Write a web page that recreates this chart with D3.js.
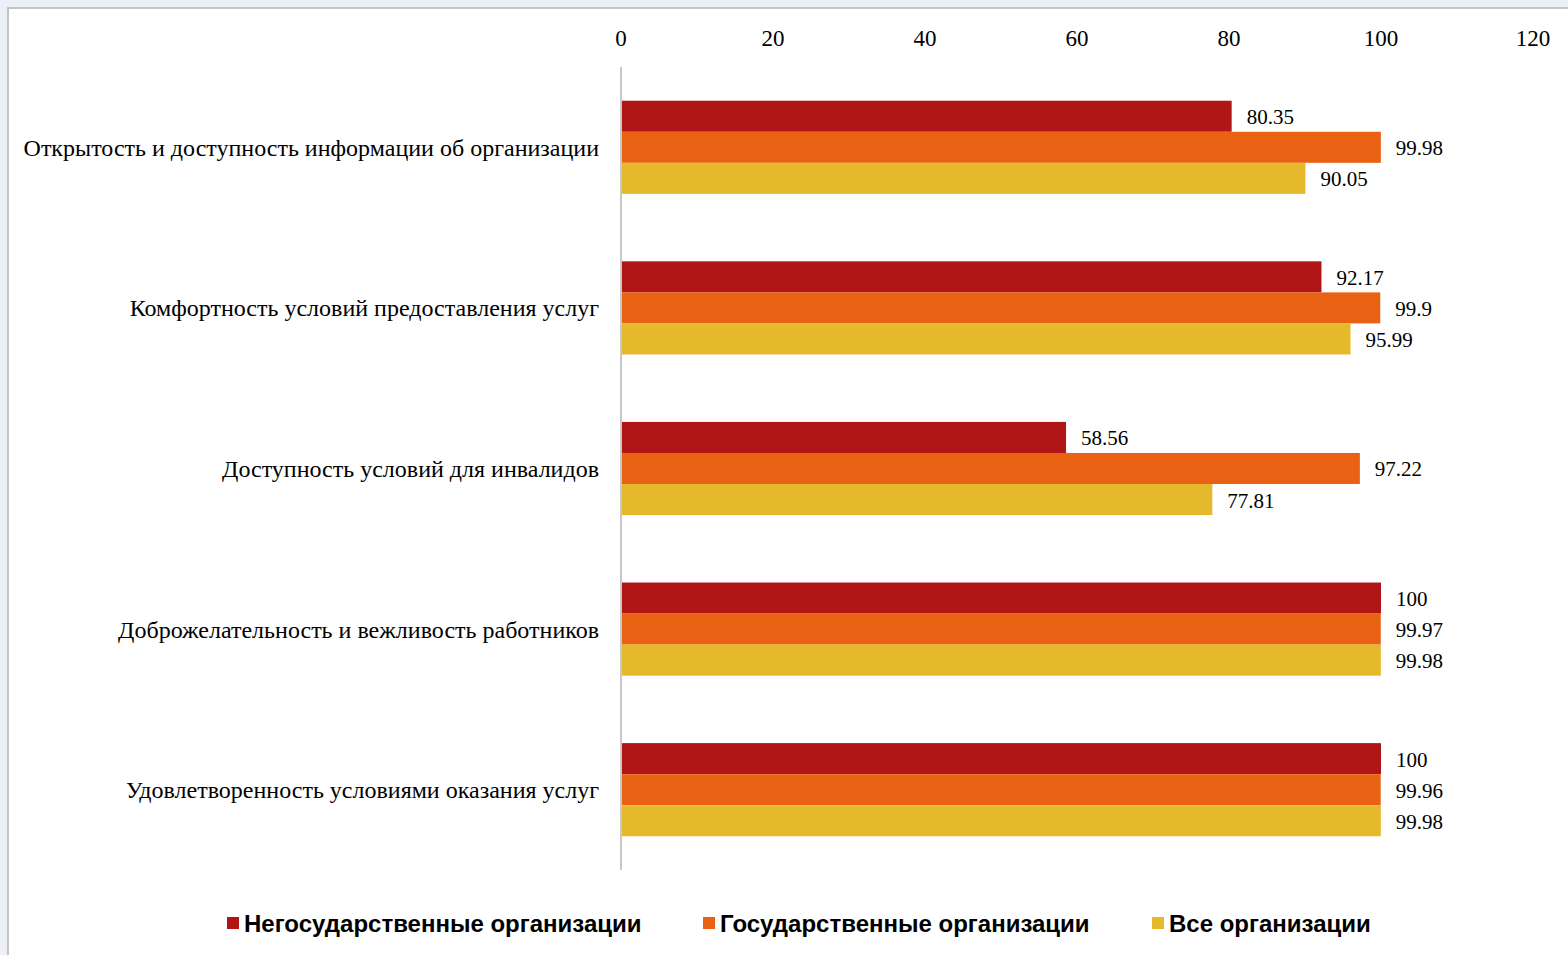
<!DOCTYPE html>
<html>
<head>
<meta charset="utf-8">
<script src="https://cdn.jsdelivr.net/npm/d3@7"></script>
<style>
  html, body { margin: 0; padding: 0; background: #edf1f7; }
  svg { display: block; }
</style>
</head>
<body>
<div id="chart"></div>
<script>
const categories = [
  'Открытость и доступность информации об организации',
  'Комфортность условий предоставления услуг',
  'Доступность условий для инвалидов',
  'Доброжелательность и вежливость работников',
  'Удовлетворенность условиями оказания услуг'
];
const seriesNames = ['Негосударственные организации', 'Государственные организации', 'Все организации'];
const nonState = [80.35, 92.17, 58.56, 100, 100];
const state = [99.98, 99.9, 97.22, 99.97, 99.96];
const allOrgs = [90.05, 95.99, 77.81, 99.98, 99.98];
const colors = ['#b01615', '#e96214', '#e6b82b'];
const tickValues = [0, 20, 40, 60, 80, 100, 120];

const W = 1568, H = 955;
const svg = d3.select('#chart').append('svg').attr('width', W).attr('height', H);

// white panel
svg.append('rect').attr('x', 8).attr('y', 8).attr('width', W).attr('height', H)
  .attr('fill', '#fff').attr('stroke', '#c3c3c3').attr('stroke-width', 2);

let x = d3.scaleLinear().domain([0, 120]).range([621, 1533]);
let y = d3.scaleBand().domain(categories).range([67, 870]).paddingInner(0.42).paddingOuter(0.21);
let inner = d3.scaleBand().domain([0, 1, 2]).range([0, y.bandwidth()]);

let data = categories.map((c, i) => ({ cat: c, vals: [nonState[i], state[i], allOrgs[i]] }));

// ticks on top
svg.append('g').selectAll('text').data(tickValues).enter().append('text')
  .attr('x', d => x(d)).attr('y', 46)
  .attr('text-anchor', 'middle')
  .style('font-family', '"Liberation Serif", "Times New Roman", serif')
  .style('font-size', '23px').attr('fill', '#000')
  .text(d => d);

let groups = svg.append('g').selectAll('g').data(data).enter().append('g')
  .attr('transform', d => `translate(0,${y(d.cat)})`);

groups.selectAll('rect').data(d => d.vals).enter().append('rect')
  .attr('x', x(0)).attr('y', (d, i) => inner(i))
  .attr('width', d => x(d) - x(0)).attr('height', inner.bandwidth())
  .attr('fill', (d, i) => colors[i]);

groups.selectAll('text.val').data(d => d.vals).enter().append('text')
  .attr('class', 'val')
  .attr('x', d => x(d) + 15).attr('y', (d, i) => inner(i) + inner.bandwidth() / 2)
  .attr('dy', '0.38em')
  .style('font-family', '"Liberation Serif", "Times New Roman", serif')
  .style('font-size', '21px').attr('fill', '#000')
  .text(d => d);

// category labels
svg.append('g').selectAll('text').data(categories).enter().append('text')
  .attr('x', 599).attr('y', d => y(d) + y.bandwidth() / 2)
  .attr('dy', '0.35em').attr('text-anchor', 'end')
  .style('font-family', '"Liberation Serif", "Times New Roman", serif')
  .style('font-size', '24px').attr('fill', '#000')
  .text(d => d);

// vertical axis line
svg.append('line').attr('x1', x(0)).attr('x2', x(0)).attr('y1', 67).attr('y2', 870)
  .attr('stroke', '#c8c8c8').attr('stroke-width', 2);

// legend
const legendX = [227, 703, 1152];
let leg = svg.append('g').selectAll('g').data(seriesNames).enter().append('g')
  .attr('transform', (d, i) => `translate(${legendX[i]},917)`);
leg.append('rect').attr('width', 12).attr('height', 12).attr('fill', (d, i) => colors[i]);
leg.append('text').attr('x', 17).attr('y', 6).attr('dy', '0.36em')
  .style('font-family', '"Liberation Sans", Arial, sans-serif')
  .style('font-size', '24px').style('font-weight', 'bold').attr('fill', '#000')
  .text(d => d);
</script>
</body>
</html>
